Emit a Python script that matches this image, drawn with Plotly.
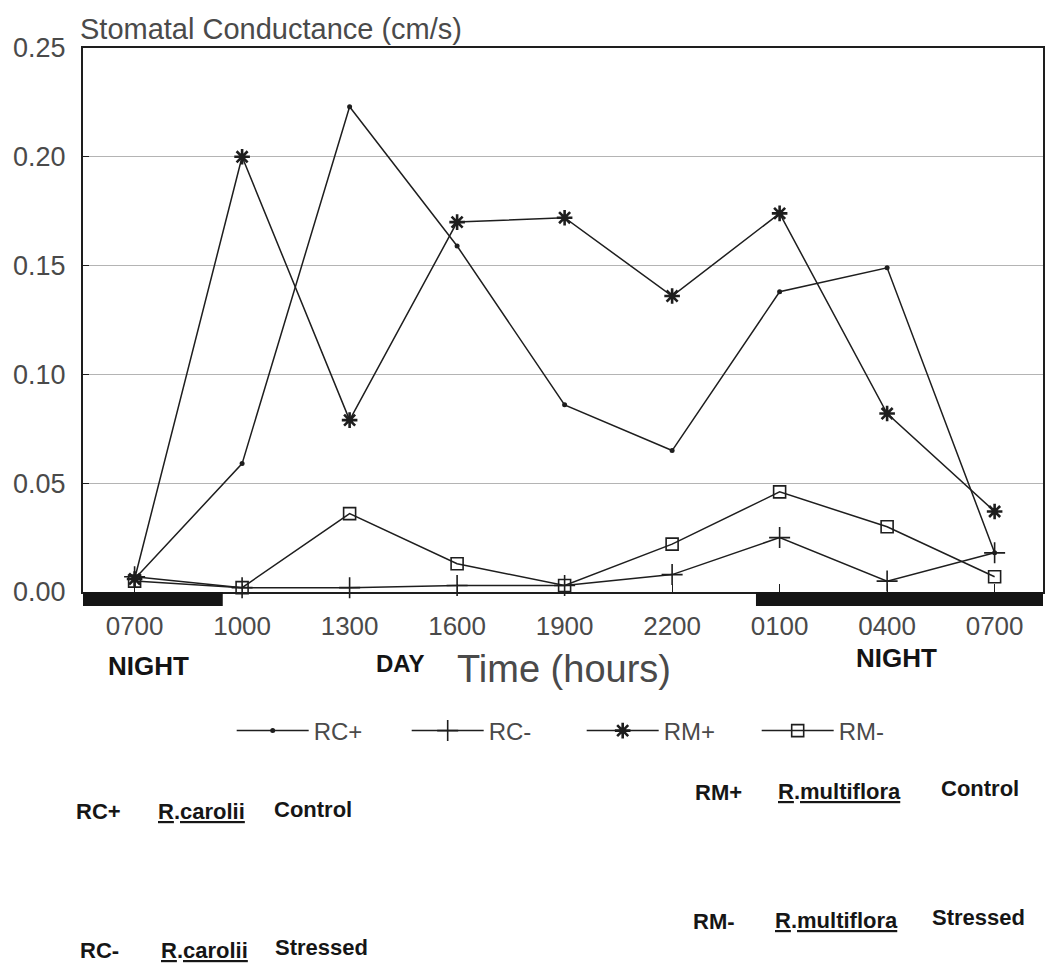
import plotly.graph_objects as go

# Sampling times (hours) across the 24 h cycle
times = ["0700", "1000", "1300", "1600", "1900", "2200", "0100", "0400", "0700"]

# Stomatal conductance (cm/s)
rc_plus = [0.006, 0.059, 0.223, 0.159, 0.086, 0.065, 0.138, 0.149, 0.018]
rc_minus = [0.007, 0.002, 0.002, 0.003, 0.003, 0.008, 0.025, 0.005, 0.018]
rm_plus = [0.006, 0.200, 0.079, 0.170, 0.172, 0.136, 0.174, 0.082, 0.037]
rm_minus = [0.005, 0.002, 0.036, 0.013, 0.003, 0.022, 0.046, 0.030, 0.007]

series_names = ["RC+", "RC-", "RM+", "RM-"]

# Dark periods, in sampling-slot units along the time axis
night_spans = [(-0.48, 0.82), (5.78, 8.45)]

y_ticks = [0.0, 0.05, 0.10, 0.15, 0.20, 0.25]

W, H = 1049, 970
L, R, T, B = 83, 4, 48, 378
PW, PH = W - L - R, H - T - B


def px(x):
    return (x - L) / PW


def py(y):
    return (H - B - y) / PH


x_pos = list(range(len(times)))
ink = "#1e1e1e"

fig = go.Figure()

styles = [
    dict(symbol="circle", size=5, line=dict(width=0)),
    dict(symbol="cross-thin-open", size=15, line=dict(width=1.6, color=ink)),
    dict(symbol="asterisk-open", size=13, line=dict(width=2.6, color=ink)),
    dict(symbol="square-open", size=12, line=dict(width=1.6, color=ink)),
]

for name, vals, st in zip(series_names, [rc_plus, rc_minus, rm_plus, rm_minus], styles):
    fig.add_trace(go.Scatter(
        x=x_pos, y=vals, name=name, mode="lines+markers",
        line=dict(color=ink, width=1.5),
        marker=dict(color=ink, **st),
        cliponaxis=False,
    ))

# Black night bars beneath the time axis
for x0, x1 in night_spans:
    fig.add_shape(type="rect", xref="x", yref="paper",
                  x0=x0, x1=x1, y0=-14 / PH, y1=0,
                  fillcolor="#151515", line=dict(width=0), layer="above")

gray = "#4a4a4a"
base_font = "Liberation Sans, Arial, Helvetica, sans-serif"

fig.update_layout(
    width=W, height=H,
    margin=dict(l=L, r=R, t=T, b=B),
    paper_bgcolor="white", plot_bgcolor="white",
    font=dict(family=base_font, color=gray),
    showlegend=True,
    legend=dict(
        orientation="h", x=px(232), y=py(731), xanchor="left", yanchor="middle",
        font=dict(size=24, color=gray), itemwidth=72,
        entrywidth=88, entrywidthmode="pixels",
        bgcolor="rgba(0,0,0,0)",
    ),
    xaxis=dict(
        range=[-0.48, 8.45], tickmode="array", tickvals=x_pos, ticktext=times,
        showgrid=False, zeroline=False,
        showline=True, linecolor=ink, linewidth=2, mirror=True,
        ticks="inside", ticklen=8, tickcolor=ink,
        tickfont=dict(size=26, color=gray), ticklabelstandoff=10,
    ),
    yaxis=dict(
        range=[0, 0.25], tickmode="array", tickvals=y_ticks,
        tickformat=".2f",
        showgrid=True, gridcolor="#b4b4b4", gridwidth=1,
        zeroline=False,
        showline=True, linecolor=ink, linewidth=2, mirror=True,
        ticks="inside", ticklen=6, tickcolor=ink,
        tickfont=dict(size=27, color=gray), ticklabelstandoff=10,
    ),
)

ann = []


def text(x, y, s, size, color=gray, bold=False, anchor="center"):
    ann.append(dict(
        xref="paper", yref="paper", x=px(x), y=py(y), text=f"<b>{s}</b>" if bold else s,
        showarrow=False, xanchor=anchor, yanchor="middle",
        font=dict(size=size, color=color, family=base_font),
    ))


text(78, 29, "Stomatal Conductance (cm/s)", 29, anchor="left")
text(149, 666, "NIGHT", 26, color="#141414", bold=True)
text(401, 663, "DAY", 24, color="#141414", bold=True)
text(565, 669, "Time (hours)", 38)
text(898, 658, "NIGHT", 26, color="#141414", bold=True)

dark = "#161616"
fs = 22
text(74, 811, "RC+", fs, color=dark, bold=True, anchor="left")
text(156, 811, "<u>R</u>.<u>carolii</u>", fs, color=dark, bold=True, anchor="left")
text(272, 809, "Control", fs, color=dark, bold=True, anchor="left")

text(78, 950, "RC-", fs, color=dark, bold=True, anchor="left")
text(159, 950, "<u>R</u>.<u>carolii</u>", fs, color=dark, bold=True, anchor="left")
text(273, 947, "Stressed", fs, color=dark, bold=True, anchor="left")

text(694, 792, "RM+", fs, color=dark, bold=True, anchor="left")
text(777, 791, "<u>R</u>.<u>multiflora</u>", fs, color=dark, bold=True, anchor="left")
text(941, 788, "Control", fs, color=dark, bold=True, anchor="left")

text(692, 922, "RM-", fs, color=dark, bold=True, anchor="left")
text(774, 920, "<u>R</u>.<u>multiflora</u>", fs, color=dark, bold=True, anchor="left")
text(932, 917, "Stressed", fs, color=dark, bold=True, anchor="left")

fig.update_layout(annotations=ann)

fig.write_html("out.html")
